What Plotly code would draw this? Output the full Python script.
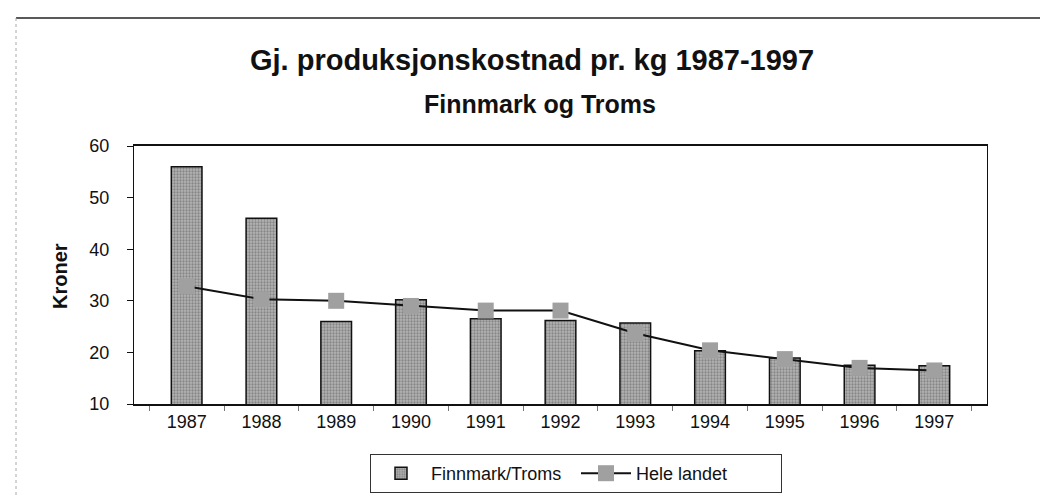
import plotly.graph_objects as go

years = ["1987", "1988", "1989", "1990", "1991", "1992", "1993", "1994", "1995", "1996", "1997"]
finnmark_troms = [56.0, 46.0, 26.0, 30.2, 26.5, 26.2, 25.7, 20.3, 18.9, 17.5, 17.4]
hele_landet = [32.8, 30.3, 30.0, 29.0, 28.1, 28.1, 23.7, 20.4, 18.7, 17.0, 16.5]
y_ticks = [10, 20, 30, 40, 50, 60]

title_text = "Gj. produksjonskostnad pr. kg 1987-1997"
subtitle_text = "Finnmark og Troms"
y_title = "Kroner"

W, H = 1048, 497
L, R, T, B = 126, 69, 138, 101
pw, ph = W - L - R, H - T - B


def px_x(x):
    return (x - L) / pw


def px_y(y):
    return (H - B - y) / ph


fig = go.Figure()
fig.add_trace(go.Bar(
    x=years, y=finnmark_troms, name="Finnmark/Troms",
    base=0,
    marker=dict(
        color="#a0a0a0",
        line=dict(color="#111111", width=1.5),
        pattern=dict(shape=".", fgcolor="#555555", bgcolor="#b4b4b4", size=3, solidity=0.45),
    ),
))
fig.add_trace(go.Scatter(
    x=years, y=hele_landet, name="Hele landet", mode="lines+markers",
    line=dict(color="#111111", width=2),
    marker=dict(symbol="square", size=16, color="#a0a0a0", line=dict(width=0)),
))

font_family = "Liberation Sans, Arial, sans-serif"

fig.update_layout(
    width=W, height=H,
    margin=dict(l=L, r=R, t=T, b=B, pad=0),
    paper_bgcolor="white", plot_bgcolor="white",
    font=dict(family=font_family, size=18, color="#111111"),
    bargap=0.59,
    showlegend=True,
    legend=dict(
        orientation="h", x=px_x(362), y=px_y(446), xanchor="left", yanchor="top",
        bordercolor="#333333", borderwidth=1, bgcolor="white",
        font=dict(size=18), itemwidth=50, entrywidth=140, entrywidthmode="pixels",
        tracegroupgap=0,
    ),
    xaxis=dict(
        type="category", showline=True, linecolor="#111111", linewidth=2, mirror=True,
        ticks="outside", ticklen=5, tickcolor="#777777", tickwidth=1,
        tickson="boundaries", showgrid=False, tickfont=dict(size=18),
    ),
    yaxis=dict(
        range=[10, 60], tickvals=y_ticks, showline=True, linecolor="#111111", linewidth=1.2,
        mirror=True, ticks="outside", ticklen=6, tickcolor="#111111", showgrid=False,
        zeroline=False, tickfont=dict(size=18), ticklabelstandoff=14,
    ),
    annotations=[
        dict(text="<b>" + title_text + "</b>", x=px_x(524), y=px_y(52), xref="paper", yref="paper",
             xanchor="center", yanchor="middle", showarrow=False, font=dict(size=29)),
        dict(text="<b>" + subtitle_text + "</b>", x=px_x(532), y=px_y(96), xref="paper", yref="paper",
             xanchor="center", yanchor="middle", showarrow=False, font=dict(size=25)),
        dict(text="<b>" + y_title + "</b>", x=px_x(52), y=px_y(268), xref="paper", yref="paper",
             xanchor="center", yanchor="middle", textangle=-90, showarrow=False, font=dict(size=20)),
    ],
    shapes=[
        dict(type="line", xref="paper", yref="paper", x0=px_x(8), x1=px_x(1048), y0=px_y(10), y1=px_y(10),
             line=dict(color="#222222", width=1.5)),
        dict(type="line", xref="paper", yref="paper", x0=px_x(8), x1=px_x(8), y0=px_y(10), y1=px_y(497),
             line=dict(color="#aaaaaa", width=1, dash="dot")),
    ],
)

fig.write_html("out.html")
